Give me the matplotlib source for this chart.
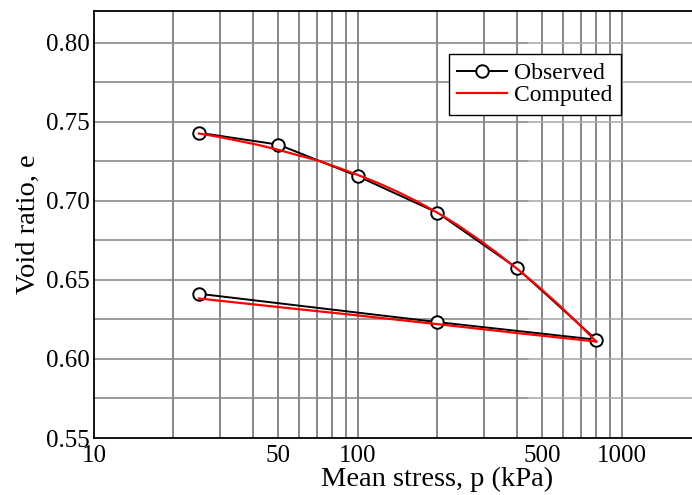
import numpy as np
import matplotlib
matplotlib.use("Agg")
import matplotlib.pyplot as plt
from matplotlib.ticker import FixedLocator, NullFormatter

plt.rcParams['font.family'] = ['Liberation Serif', 'DejaVu Serif']
plt.rcParams['mathtext.fontset'] = 'stix'

# Observed loading / unloading path (mean stress in kPa, void ratio)
obs_p = [25, 50, 100, 200, 400, 800, 200, 25]
obs_e = [0.743, 0.7355, 0.7155, 0.6925, 0.6575, 0.6122, 0.6233, 0.6412]

# Computed loading branch
comp_load_p = [25, 30, 35, 42, 50, 59, 71, 84, 100, 119, 141, 168, 200,
               238, 283, 336, 400, 476, 566, 673, 800]
comp_load_e = [0.7425, 0.7403, 0.7380, 0.7353, 0.7322, 0.7289, 0.7253, 0.7210,
               0.7163, 0.7113, 0.7058, 0.6995, 0.6925, 0.6848, 0.6762, 0.6671,
               0.6572, 0.6467, 0.6355, 0.6236, 0.6110]

# Computed unloading branch
comp_unload_p = [800, 400, 200, 100, 50, 25]
comp_unload_e = [0.6110, 0.6164, 0.6220, 0.6275, 0.6328, 0.6382]

x_ticks = [10, 50, 100, 500, 1000]
x_ticklabels = ["10", "50", "100", "500", "1000"]
y_ticks = [0.55, 0.60, 0.65, 0.70, 0.75, 0.80]
y_ticklabels = ["0.55", "0.60", "0.65", "0.70", "0.75", "0.80"]

W, H = 692, 495
fig = plt.figure(figsize=(W / 100, H / 100), dpi=100)
ax = fig.add_axes([94 / W, (H - 438) / H, (W - 94) / W, (438 - 11) / H])

ax.set_xscale('log')
ax.set_xlim(10, 10 ** (3 + 70 / 263))
ax.set_ylim(0.55, 0.82)

# grid lines: every 1-9 multiple up to 1000, every 0.025 in void ratio
vgrid = [m * 10 ** k for k in (1, 2) for m in range(2, 10)] + [100, 1000]
for xv in sorted(set(vgrid)):
    ax.axvline(xv, color='#727272', lw=1.2, zorder=0)
split = (528 - 94) / (W - 94)
for yv in np.arange(0.575, 0.82, 0.025):
    ax.axhline(yv, xmin=0, xmax=split, color='#8a8a8a', lw=1.2, zorder=0)
    ax.axhline(yv, xmin=split, xmax=1, color='#ababab', lw=1.2, zorder=0)

ax.plot(obs_p, obs_e, color='black', lw=1.4, marker='o', ms=9,
        mfc='white', mec='black', mew=1.4, label='Observed', zorder=3)
ax.plot(comp_load_p, comp_load_e, color='red', lw=1.6, label='Computed', zorder=4)
ax.plot(comp_unload_p, comp_unload_e, color='red', lw=1.6, zorder=4)

ax.xaxis.set_major_locator(FixedLocator(x_ticks))
ax.xaxis.set_minor_locator(FixedLocator([]))
ax.xaxis.set_minor_formatter(NullFormatter())
ax.set_xticks(x_ticks)
ax.set_xticklabels(x_ticklabels)
ax.set_yticks(y_ticks)
ax.set_yticklabels(y_ticklabels)
ax.tick_params(axis='both', which='both', length=0, labelsize=18)
ax.tick_params(axis='x', pad=5)
ax.tick_params(axis='y', pad=3)

for side in ('left', 'bottom', 'top'):
    ax.spines[side].set_linewidth(1.3)
    ax.spines[side].set_color('black')
ax.spines['right'].set_visible(False)

ax.set_xlabel('Mean stress, p (kPa)', fontsize=20.5)
ax.xaxis.set_label_coords((437 - 94) / (W - 94), -(492 - 438) / (438 - 11))
ax.xaxis.label.set_va('bottom')
ax.set_ylabel('Void ratio, e', fontsize=20.5, labelpad=4)

leg = ax.legend(loc='upper left', bbox_to_anchor=(449 / W, 1 - 54 / H),
                bbox_transform=fig.transFigure, fontsize=17, frameon=True,
                fancybox=False, edgecolor='black', framealpha=1,
                handlelength=2.1, handletextpad=0.3, labelspacing=0.05,
                borderpad=0.35, borderaxespad=0)
leg.get_frame().set_linewidth(1.0)

fig.savefig('out.png', dpi=100)
